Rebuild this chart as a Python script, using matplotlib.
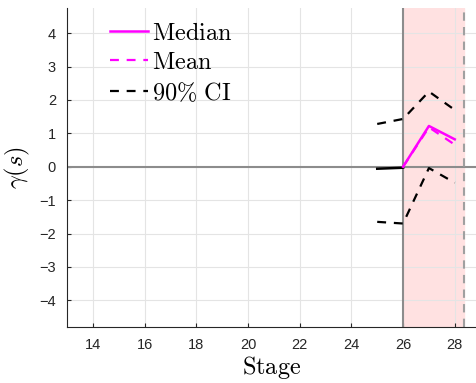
import numpy as np
import matplotlib.pyplot as plt
from matplotlib.lines import Line2D

plt.rcParams["mathtext.fontset"] = "cm"
plt.rcParams["font.family"] = ["Liberation Sans", "DejaVu Sans"]

# median before / after the event stage
stages_pre = [25, 26]
median_pre = [-0.06, -0.03]
stages_post = [26, 27, 28]
median_post = [0.0, 1.22, 0.82]
mean_post = [0.0, 1.18, 0.66]

# 90% credible band
ci_stages = [25, 26, 27, 28]
ci_lo = [-1.65, -1.70, -0.04, -0.48]
ci_hi = [1.28, 1.43, 2.25, 1.70]

event_stage = 26
window_end = 28.35

fig = plt.figure(figsize=(4.77, 3.83), dpi=100)
ax = fig.add_axes([0.1405, 0.146, 0.8595, 0.833])

ax.axvspan(event_stage, window_end, color="#ffe1e1", zorder=0)
ax.axhline(0, color="#8c8c8c", lw=1.5, zorder=1)
ax.axvline(event_stage, color="#8c8c8c", lw=1.5, zorder=1)
ax.axvline(window_end, color="#a0a0a0", lw=1.5, ls=(0, (4, 3)), zorder=1)

dash = (0, (4, 3.5))
ax.plot(stages_pre, median_pre, color="black", lw=1.8, zorder=3)
ax.plot(ci_stages, ci_hi, color="black", lw=1.6, ls=dash, zorder=3)
ax.plot(ci_stages, ci_lo, color="black", lw=1.6, ls=dash, zorder=3)
ax.plot(stages_post, mean_post, color="magenta", lw=1.6, ls=dash, zorder=4)
ax.plot(stages_post, median_post, color="magenta", lw=1.8, zorder=5)

ax.set_xlim(13, 28.86)
ax.set_ylim(-4.8, 4.75)
ax.set_xticks(np.arange(14, 29, 2))
ax.set_yticks(np.arange(-4, 5, 1))
ax.grid(True, color="#e4e4e4", lw=0.8)
ax.set_axisbelow(True)
for s in ("top", "right"):
    ax.spines[s].set_visible(False)
for s in ("left", "bottom"):
    ax.spines[s].set_color("#262626")
    ax.spines[s].set_linewidth(0.8)
ax.tick_params(direction="in", length=3, colors="#262626", labelsize=10.5, pad=8)

ax.set_xlabel(r"$\mathrm{Stage}$", fontsize=17.5, labelpad=1.5)
ax.set_ylabel(r"$\gamma(s)$", fontsize=17.5, labelpad=5)

handles = [
    Line2D([], [], color="magenta", lw=1.8),
    Line2D([], [], color="magenta", lw=1.6, ls=dash),
    Line2D([], [], color="black", lw=1.6, ls=dash),
]
labels = [r"$\mathrm{Median}$", r"$\mathrm{Mean}$", r"$\mathrm{90\%\ CI}$"]
ax.legend(handles, labels, loc="upper left", bbox_to_anchor=(0.07, 1.0),
          frameon=False, fontsize=17.5, handlelength=1.55, handletextpad=0.15,
          labelspacing=0.3, borderaxespad=0.2)

fig.savefig("out.png", dpi=100)
